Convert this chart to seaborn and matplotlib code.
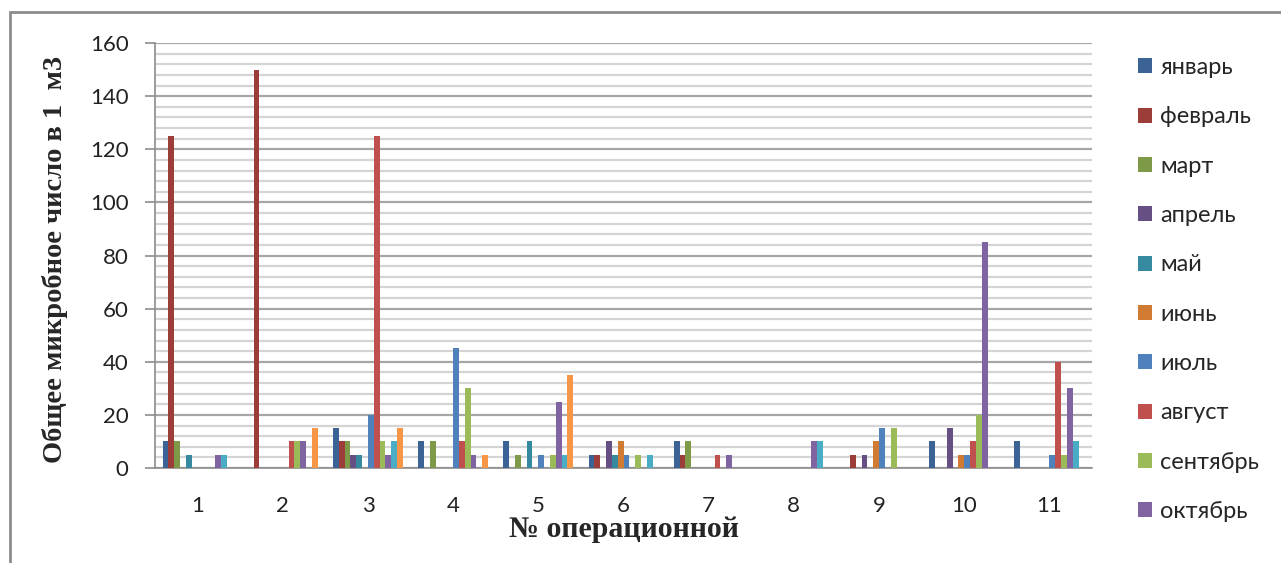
import pandas as pd
import seaborn as sns
import matplotlib.pyplot as plt
from matplotlib.patches import Rectangle
from matplotlib.ticker import MultipleLocator

sns.set_style('white')
plt.rcParams['font.family'] = ['Lato', 'DejaVu Sans']

# operating rooms (categories) and months (series)
rooms = ['1', '2', '3', '4', '5', '6', '7', '8', '9', '10', '11']
months = ['январь', 'февраль', 'март', 'апрель', 'май', 'июнь', 'июль',
          'август', 'сентябрь', 'октябрь', 'ноябрь', 'декабрь']

# total microbial count per m3, one list per room (jan .. dec)
room_1 = [10, 125, 10, 0, 5, 0, 0, 0, 0, 5, 5, 0]
room_2 = [0, 150, 0, 0, 0, 0, 0, 10, 10, 10, 0, 15]
room_3 = [15, 10, 10, 5, 5, 0, 20, 125, 10, 5, 10, 15]
room_4 = [10, 0, 10, 0, 0, 0, 45, 10, 30, 5, 0, 5]
room_5 = [10, 0, 5, 0, 10, 0, 5, 0, 5, 25, 5, 35]
room_6 = [5, 5, 0, 10, 5, 10, 5, 0, 5, 0, 5, 0]
room_7 = [10, 5, 10, 0, 0, 0, 0, 5, 0, 5, 0, 0]
room_8 = [0, 0, 0, 0, 0, 0, 0, 0, 0, 10, 10, 0]
room_9 = [0, 5, 0, 5, 0, 10, 15, 0, 15, 0, 0, 0]
room_10 = [10, 0, 0, 15, 0, 5, 5, 10, 20, 85, 0, 0]
room_11 = [10, 0, 0, 0, 0, 0, 5, 40, 5, 30, 10, 0]

values = [room_1, room_2, room_3, room_4, room_5, room_6, room_7, room_8,
          room_9, room_10, room_11]

colors = ['#3B6396', '#9C3D3A', '#7E9A48', '#664F83', '#368AA0', '#D07A32',
          '#4F81BD', '#C0504D', '#9BBB59', '#8064A2', '#4BACC6', '#F79646']

rows = []
for room, vals in zip(rooms, values):
    for month, v in zip(months, vals):
        rows.append({'room': room, 'month': month, 'value': v})
data = pd.DataFrame(rows)

fig = plt.figure(figsize=(12.81, 5.63), dpi=100)
ax = fig.add_axes([155 / 1281, 1 - 468 / 563, 937 / 1281, 425 / 563])

sns.barplot(x='room', y='value', hue='month', data=data, order=rooms,
            hue_order=months, palette=colors, width=0.82, gap=0,
            saturation=1, errorbar=None, linewidth=0, ax=ax, zorder=3)

ax.set_ylim(0, 160)
ax.set_xlim(-0.5, 10.5)
ax.yaxis.set_major_locator(MultipleLocator(20))
ax.yaxis.set_minor_locator(MultipleLocator(4))
ax.yaxis.grid(True, which='minor', color='#D4D4D4', lw=1.6, zorder=0)
ax.yaxis.grid(True, which='major', color='#A6A6A6', lw=1.6, zorder=1)
ax.set_axisbelow(True)

for side in ['top', 'right']:
    ax.spines[side].set_visible(False)
for side in ['left', 'bottom']:
    ax.spines[side].set_color('#8C8C8C')
    ax.spines[side].set_linewidth(1.2)

ax.tick_params(axis='y', which='major', left=True, length=7, width=1.2,
               color='#8C8C8C', pad=12, labelsize=16, labelcolor='#222222')
ax.tick_params(axis='y', which='minor', length=0)
ax.tick_params(axis='x', length=0, pad=20, labelsize=16,
               labelcolor='#222222')

ax.set_ylabel('Общее микробное число в 1  м3', family='Liberation Serif',
              weight='bold', size=20.5)
ax.yaxis.set_label_coords(-0.093, 0.49)
ax.set_xlabel('№ операционной', family='Liberation Serif', weight='bold',
              size=21.5)
ax.xaxis.label.set_va('center')
ax.xaxis.set_label_coords(0.5, -0.145)

# legend shows only the first ten months, as in the original
handles, labels = ax.get_legend_handles_labels()
ax.legend(handles[:10], labels[:10], loc='upper left',
          bbox_to_anchor=(1138 / 1281, 1 - 57 / 563),
          bbox_transform=fig.transFigure, frameon=False, fontsize=17,
          handlelength=0.6, handleheight=0.6, handletextpad=0.35,
          labelspacing=1.2, borderpad=0, borderaxespad=0)

# outer chart border (top and left edge visible)
fig.patches.append(Rectangle((10 / 1281, -0.1), 1.1, 1.1 - 12 / 563,
                             transform=fig.transFigure, fill=False,
                             edgecolor='#8C8C8C', lw=2))

plt.savefig('out.png', dpi=100)
